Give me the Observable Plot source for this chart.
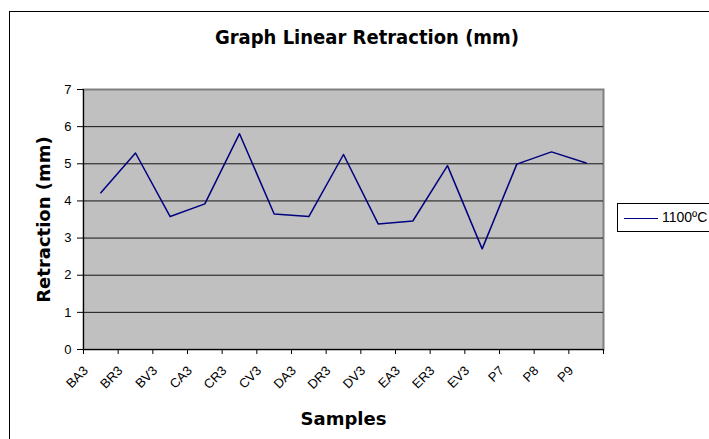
<!DOCTYPE html>
<html>
<head>
<meta charset="utf-8">
<script src="https://cdn.jsdelivr.net/npm/d3@7"></script>
<script src="https://cdn.jsdelivr.net/npm/@observablehq/plot@0.6"></script>
<style>
  html, body { margin: 0; padding: 0; background: #fff; }
  #wrap { position: relative; width: 709px; height: 439px; overflow: hidden; background: #fff; }
  #border { position: absolute; left: 9px; top: 11px; width: 800px; height: 500px; border: 1px solid #000; }
  #title { position: absolute; left: 0; top: 27px; width: 734px; text-align: center;
           font-family: "DejaVu Sans", sans-serif; font-stretch: condensed; font-weight: bold; font-size: 20px; line-height: 20px; color: #000; }
  #chart { position: absolute; left: 0; top: 0; }
  #legend { position: absolute; left: 617px; top: 203px; width: 130px; height: 27px; border: 1px solid #000; background: #fff;
            font-family: "Liberation Sans", Arial, sans-serif; font-size: 14px; line-height: 27px; white-space: nowrap; }
  #legend .sw { display: inline-block; width: 34px; height: 0; border-top: 1.5px solid #000080; vertical-align: middle; margin: 0 4px 0 6px; }
  g[aria-label="y-axis tick label"], g[aria-label="x-axis tick label"] { font-size: 13px; }
</style>
</head>
<body>
<div id="wrap">
  <div id="border"></div>
  <div id="chart"></div>
  <div id="title"></div>
  <div id="legend"></div>
</div>
<script>
const chartTitle = "Graph Linear Retraction (mm)";
const xTitle = "Samples";
const yTitle = "Retraction (mm)";
const seriesName = "1100ºC";
const samples = ["BA3","BR3","BV3","CA3","CR3","CV3","DA3","DR3","DV3","EA3","ER3","EV3","P7","P8","P9"];
const retraction = [4.22,5.29,3.58,3.92,5.81,3.65,3.58,5.25,3.38,3.46,4.95,2.71,4.99,5.32,5.02];
const yTicks = [0,1,2,3,4,5,6,7];

const data = samples.map((s, i) => ({sample: s, i, value: retraction[i]}));
const idx = data.map(d => d.i);
const boundaries = d3.range(samples.length + 1).map(i => i - 0.5);

document.getElementById("title").textContent = chartTitle;
const leg = document.getElementById("legend");
leg.innerHTML = '<span class="sw"></span>';
leg.appendChild(document.createTextNode(seriesName));

const plot = Plot.plot({
  width: 709,
  height: 439,
  marginLeft: 83,
  marginRight: 106,
  marginTop: 89,
  marginBottom: 90,
  style: {background: "transparent", fontFamily: "'Liberation Sans', Arial, sans-serif", fontSize: "13px", color: "#000", overflow: "visible"},
  x: {type: "linear", domain: [-0.5, samples.length - 0.5]},
  y: {domain: [0, 7]},
  marks: [
    Plot.frame({fill: "#c0c0c0", stroke: "#808080", strokeWidth: 2}),
    Plot.gridY(yTicks.filter(v => v > 0 && v < 7), {stroke: "#000", strokeOpacity: 0.9}),
    Plot.ruleY([0], {stroke: "#000"}),
    Plot.ruleX([-0.5], {stroke: "#000"}),
    Plot.axisY(yTicks, {tickSize: 6, tickPadding: 6, label: null}),
    Plot.axisY({ticks: [], label: yTitle, labelAnchor: "center", labelArrow: "none", labelOffset: 46,
                fontFamily: "DejaVu Sans", fontWeight: "bold", fontSize: 18}),
    Plot.axisX(boundaries, {tickSize: 5, tickFormat: () => "", label: null}),
    Plot.axisX(idx, {tickSize: 0, tickPadding: 19, tickRotate: -45, dx: -15, tickFormat: i => samples[i], label: null}),
    Plot.axisX({ticks: [], label: xTitle, labelAnchor: "center", labelArrow: "none", labelOffset: 75,
                fontFamily: "DejaVu Sans", fontWeight: "bold", fontSize: 18}),
    Plot.lineY(data, {x: "i", y: "value", stroke: "#000080", strokeWidth: 1.5})
  ]
});
document.getElementById("chart").appendChild(plot);
</script>
</body>
</html>
